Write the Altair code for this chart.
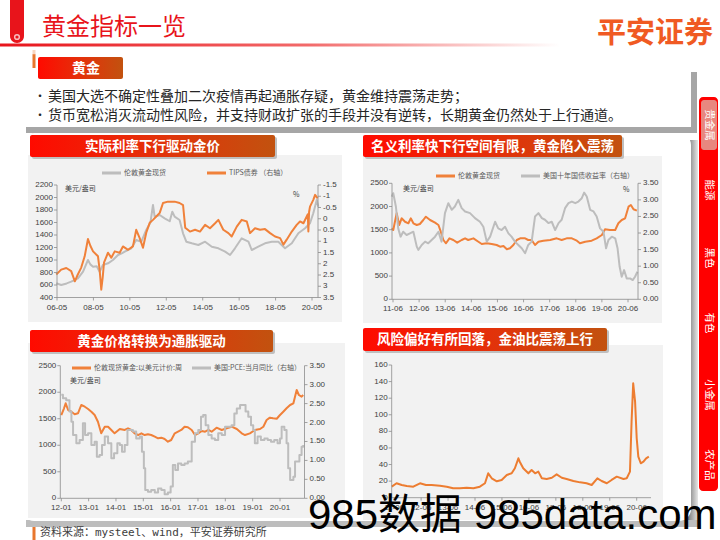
import altair as alt
import pandas as pd

# ---------------- data ----------------
# Chart 1: London gold spot (USD/oz, left) and TIPS yield (%, right, reversed)
c1_gold = [(2006.33, 627), (2006.6, 600), (2006.9, 625), (2007.15, 653), (2007.52, 707), (2007.8, 813),
           (2008.07, 1000), (2008.2, 930), (2008.35, 893), (2008.55, 900), (2008.71, 813), (2008.89, 920),
           (2009.17, 947), (2009.44, 1000), (2009.72, 1080), (2009.95, 1110), (2010.09, 1133), (2010.45, 1187),
           (2010.72, 1320), (2011.0, 1293), (2011.27, 1480), (2011.5, 1600), (2011.64, 1880), (2011.73, 1693),
           (2012.01, 1720), (2012.28, 1667), (2012.56, 1620), (2012.7, 1773), (2012.83, 1693), (2013.1, 1640),
           (2013.29, 1427), (2013.47, 1293), (2013.77, 1267), (2014.13, 1240), (2014.5, 1293), (2014.87, 1213),
           (2015.23, 1187), (2015.6, 1133), (2015.87, 1080), (2016.14, 1187), (2016.51, 1347), (2016.88, 1293),
           (2017.06, 1160), (2017.42, 1213), (2017.79, 1267), (2018.16, 1293), (2018.52, 1293), (2018.89, 1187),
           (2019.26, 1267), (2019.62, 1427), (2019.99, 1507), (2020.26, 1587), (2020.44, 1747), (2020.63, 1960),
           (2020.72, 1853)]
c1_tips = [(2006.33, 2.48), (2006.6, 2.26), (2006.88, 2.19), (2007.15, 2.33), (2007.35, 2.78), (2007.5, 2.5),
           (2007.7, 2.17), (2007.89, 1.67), (2008.07, 0.9), (2008.2, 1.2), (2008.35, 1.45), (2008.62, 1.67),
           (2008.71, 2.26), (2008.8, 3.15), (2008.88, 2.6), (2008.95, 1.95), (2009.17, 1.51), (2009.35, 1.73),
           (2009.54, 1.45), (2009.81, 1.51), (2009.99, 1.23), (2010.27, 1.38), (2010.54, 1.23), (2010.72, 0.49),
           (2010.91, 0.86), (2011.09, 1.29), (2011.27, 0.62), (2011.46, 0.18), (2011.64, 0.05), (2011.82, -0.1),
           (2012.01, -0.26), (2012.19, -0.7), (2012.46, -0.76), (2012.83, -0.76), (2013.1, -0.7), (2013.29, -0.61),
           (2013.41, 0.4), (2013.67, 0.57), (2013.95, 0.49), (2014.22, 0.57), (2014.5, 0.27), (2014.77, 0.42),
           (2015.05, 0.2), (2015.23, 0.05), (2015.5, 0.49), (2015.78, 0.64), (2015.96, 0.79), (2016.24, 0.35),
           (2016.51, 0.05), (2016.79, 0.12), (2016.97, 0.64), (2017.24, 0.42), (2017.52, 0.49), (2017.79, 0.46),
           (2018.07, 0.64), (2018.34, 0.79), (2018.62, 0.86), (2018.8, 1.15), (2018.98, 0.93), (2019.26, 0.57),
           (2019.53, 0.27), (2019.71, 0.12), (2019.9, 0.2), (2020.08, -0.1), (2020.14, -0.2), (2020.17, 0.57),
           (2020.21, -0.3), (2020.26, -0.54), (2020.44, -0.84), (2020.54, -1.06), (2020.68, -0.91)]
c1_xticks = [2006.37, 2008.37, 2010.37, 2012.37, 2014.37, 2016.37, 2018.37, 2020.37]
c1_xlabels = ["06-05", "08-05", "10-05", "12-05", "14-05", "16-05", "18-05", "20-05"]
c1_lticks = [400, 600, 800, 1000, 1200, 1400, 1600, 1800, 2000, 2200]
c1_rticks = [-1.5, -1, -0.5, 0, 0.5, 1, 1.5, 2, 2.5, 3, 3.5]
c1_rlabels = ["-1.5", "-1", "-0.5", "0", "0.5", "1", "1.5", "2", "2.5", "3", "3.5"]

# Chart 2: London gold spot (left) and US 10Y treasury yield (%, right)
c2_gold = [(2011.37, 1530), (2011.43, 1493), (2011.56, 1853), (2011.66, 1601), (2011.75, 1745), (2011.88, 1672),
           (2012.01, 1638), (2012.1, 1745), (2012.2, 1638), (2012.33, 1601), (2012.45, 1623), (2012.58, 1709),
           (2012.68, 1780), (2012.84, 1709), (2013.03, 1651), (2013.16, 1601), (2013.25, 1457), (2013.35, 1278),
           (2013.45, 1207), (2013.58, 1314), (2013.73, 1278), (2013.88, 1220), (2014.05, 1278), (2014.18, 1314),
           (2014.3, 1278), (2014.5, 1314), (2014.69, 1241), (2014.82, 1192), (2015.01, 1207), (2015.2, 1192),
           (2015.39, 1170), (2015.52, 1134), (2015.65, 1149), (2015.78, 1078), (2015.9, 1099), (2016.03, 1170),
           (2016.16, 1278), (2016.29, 1314), (2016.48, 1314), (2016.6, 1278), (2016.73, 1278), (2016.86, 1170),
           (2016.99, 1241), (2017.18, 1263), (2017.44, 1278), (2017.69, 1314), (2017.88, 1278), (2018.07, 1314),
           (2018.27, 1314), (2018.46, 1263), (2018.58, 1207), (2018.78, 1241), (2019.03, 1263), (2019.22, 1314),
           (2019.42, 1386), (2019.54, 1508), (2019.73, 1493), (2019.93, 1493), (2020.05, 1638), (2020.18, 1709),
           (2020.31, 1745), (2020.44, 1996), (2020.53, 2032), (2020.63, 1940), (2020.76, 1910)]
c2_yield = [(2011.37, 3.1), (2011.43, 3.2), (2011.53, 2.8), (2011.62, 2.14), (2011.71, 1.89), (2011.81, 2.04),
            (2011.94, 1.94), (2012.07, 1.99), (2012.2, 2.04), (2012.33, 1.59), (2012.39, 1.49), (2012.52, 1.64),
            (2012.65, 1.74), (2012.77, 1.69), (2012.9, 1.79), (2013.03, 1.89), (2013.16, 2.04), (2013.28, 1.74),
            (2013.41, 2.6), (2013.54, 2.9), (2013.67, 2.7), (2013.79, 2.8), (2013.92, 3.0), (2014.05, 2.75),
            (2014.18, 2.65), (2014.37, 2.6), (2014.56, 2.45), (2014.75, 2.34), (2014.88, 2.19), (2015.01, 1.74),
            (2015.14, 1.89), (2015.33, 2.34), (2015.45, 2.14), (2015.58, 2.09), (2015.71, 2.19), (2015.84, 1.99),
            (2015.96, 1.89), (2016.09, 1.74), (2016.22, 1.64), (2016.35, 1.54), (2016.48, 1.39), (2016.6, 1.64),
            (2016.73, 1.74), (2016.86, 2.5), (2016.99, 2.6), (2017.12, 2.45), (2017.24, 2.4), (2017.37, 2.3),
            (2017.5, 2.34), (2017.63, 2.09), (2017.76, 2.3), (2017.88, 2.4), (2018.01, 2.75), (2018.14, 2.9),
            (2018.27, 2.95), (2018.4, 2.9), (2018.52, 2.95), (2018.65, 3.05), (2018.74, 3.22), (2018.84, 3.1),
            (2018.97, 2.7), (2019.1, 2.65), (2019.22, 2.5), (2019.35, 2.14), (2019.48, 2.04), (2019.58, 1.54),
            (2019.67, 1.79), (2019.8, 1.89), (2019.93, 1.84), (2020.02, 1.54), (2020.1, 0.98), (2020.18, 0.68),
            (2020.27, 0.88), (2020.37, 0.63), (2020.5, 0.63), (2020.6, 0.58), (2020.69, 0.68), (2020.78, 0.83)]
c2_xticks = [2011.42, 2012.42, 2013.42, 2014.42, 2015.42, 2016.42, 2017.42, 2018.42, 2019.42, 2020.42]
c2_xlabels = ["11-06", "12-06", "13-06", "14-06", "15-06", "16-06", "17-06", "18-06", "19-06", "20-06"]
c2_lticks = [0, 500, 1000, 1500, 2000, 2500]
c2_rticks = [0, 0.5, 1, 1.5, 2, 2.5, 3, 3.5]
c2_rlabels = ["0.00", "0.50", "1.00", "1.50", "2.00", "2.50", "3.00", "3.50"]

# Chart 3: London gold spot weekly (left) and US PCE YoY (%, right)
c3_gold = [(2012.0, 1570), (2012.1, 1697), (2012.16, 1791), (2012.25, 1665), (2012.37, 1633), (2012.49, 1584),
           (2012.61, 1603), (2012.73, 1759), (2012.86, 1727), (2012.98, 1684), (2013.1, 1633), (2013.22, 1570),
           (2013.34, 1444), (2013.46, 1225), (2013.59, 1350), (2013.71, 1350), (2013.83, 1288), (2013.95, 1225),
           (2014.14, 1307), (2014.32, 1288), (2014.44, 1320), (2014.56, 1288), (2014.68, 1225), (2014.81, 1193),
           (2014.93, 1225), (2015.05, 1193), (2015.17, 1207), (2015.29, 1193), (2015.42, 1162), (2015.54, 1131),
           (2015.66, 1143), (2015.78, 1118), (2015.9, 1067), (2016.02, 1099), (2016.15, 1225), (2016.27, 1256),
           (2016.39, 1288), (2016.51, 1350), (2016.63, 1340), (2016.77, 1288), (2016.89, 1193), (2017.01, 1225),
           (2017.14, 1269), (2017.26, 1256), (2017.38, 1288), (2017.5, 1256), (2017.68, 1331), (2017.87, 1288),
           (2018.05, 1320), (2018.23, 1350), (2018.42, 1307), (2018.6, 1225), (2018.72, 1193), (2018.9, 1225),
           (2019.08, 1288), (2019.27, 1307), (2019.39, 1350), (2019.51, 1476), (2019.63, 1520), (2019.75, 1508),
           (2019.88, 1500), (2020.0, 1570), (2020.12, 1633), (2020.24, 1697), (2020.37, 1759), (2020.49, 1791),
           (2020.61, 2042), (2020.69, 1948), (2020.79, 1916), (2020.85, 1948)]
c3_pce = [(2012.0, 2.73), (2012.06, 2.64), (2012.18, 2.59), (2012.3, 2.29), (2012.37, 2.02), (2012.43, 1.67),
          (2012.55, 1.45), (2012.67, 1.54), (2012.79, 1.98), (2012.87, 1.67), (2012.98, 1.72), (2013.1, 1.41),
          (2013.22, 1.49), (2013.3, 1.1), (2013.4, 1.14), (2013.49, 1.41), (2013.59, 1.63), (2013.71, 1.45),
          (2013.83, 1.06), (2013.93, 1.19), (2014.05, 1.45), (2014.14, 1.41), (2014.22, 1.23), (2014.32, 1.41),
          (2014.42, 1.8), (2014.5, 1.8), (2014.62, 1.76), (2014.74, 1.58), (2014.87, 1.63), (2014.95, 1.23),
          (2015.02, 0.79), (2015.07, 0.22), (2015.17, 0.17), (2015.29, 0.22), (2015.42, 0.15), (2015.54, 0.26),
          (2015.66, 0.22), (2015.78, 0.11), (2015.9, 0.15), (2016.0, 0.31), (2016.08, 0.88), (2016.17, 0.75),
          (2016.27, 0.92), (2016.39, 0.88), (2016.51, 0.92), (2016.63, 0.97), (2016.77, 1.49), (2016.89, 1.72),
          (2017.01, 1.8), (2017.11, 2.15), (2017.19, 2.2), (2017.28, 1.93), (2017.38, 1.67), (2017.5, 1.58),
          (2017.62, 1.54), (2017.74, 1.72), (2017.87, 1.67), (2017.99, 1.89), (2018.11, 1.89), (2018.23, 1.93),
          (2018.33, 2.24), (2018.42, 2.37), (2018.54, 2.46), (2018.66, 2.46), (2018.74, 2.29), (2018.84, 2.15),
          (2018.94, 1.93), (2019.02, 1.8), (2019.08, 1.45), (2019.18, 1.63), (2019.3, 1.54), (2019.43, 1.58),
          (2019.55, 1.54), (2019.67, 1.49), (2019.79, 1.54), (2019.91, 1.45), (2020.0, 1.58), (2020.06, 1.89),
          (2020.16, 1.8), (2020.24, 1.45), (2020.3, 0.79), (2020.37, 0.48), (2020.49, 0.57), (2020.55, 0.97),
          (2020.63, 0.97), (2020.71, 1.14), (2020.79, 1.36), (2020.85, 1.41)]
c3_xticks = [2012, 2013, 2014, 2015, 2016, 2017, 2018, 2019, 2020]
c3_xlabels = ["12-01", "13-01", "14-01", "15-01", "16-01", "17-01", "18-01", "19-01", "20-01"]

# Chart 4: gold / oil ratio
c4_ratio = [(2011.33, 13.3), (2011.51, 17.4), (2011.7, 15.3), (2011.89, 14.1), (2012.13, 13.3), (2012.38, 17.4),
            (2012.6, 15.3), (2012.81, 15.3), (2013.12, 14.5), (2013.37, 13.3), (2013.61, 11.3), (2013.86, 11.3),
            (2014.11, 12.0), (2014.36, 11.3), (2014.6, 13.3), (2014.79, 17.4), (2014.91, 29.4), (2015.04, 23.4),
            (2015.23, 19.8), (2015.41, 21.4), (2015.6, 27.4), (2015.78, 29.4), (2015.9, 35.5), (2016.03, 47.5),
            (2016.08, 43.4), (2016.21, 35.5), (2016.4, 29.4), (2016.52, 33.4), (2016.65, 29.4), (2016.77, 31.4),
            (2016.9, 23.4), (2017.08, 22.6), (2017.27, 24.1), (2017.45, 28.2), (2017.64, 24.1), (2017.82, 22.6),
            (2018.07, 20.1), (2018.32, 18.5), (2018.56, 17.4), (2018.75, 15.3), (2018.96, 23.4), (2019.12, 20.1),
            (2019.31, 17.4), (2019.49, 21.4), (2019.68, 25.4), (2019.93, 22.6), (2020.05, 23.4), (2020.17, 31.4),
            (2020.23, 91.7), (2020.29, 138.0), (2020.36, 115.8), (2020.42, 71.7), (2020.48, 49.5), (2020.57, 41.5),
            (2020.67, 43.4), (2020.77, 47.5), (2020.87, 49.5)]
c4_xticks = [2011.42, 2012.42, 2013.42, 2014.42, 2015.42, 2016.42, 2017.42, 2018.42, 2019.42, 2020.42]
c4_xlabels = ["11-06", "12-06", "13-06", "14-06", "15-06", "16-06", "17-06", "18-06", "19-06", "20-06"]
c4_lticks = [0, 20, 40, 60, 80, 100, 120, 140, 160]

# texts
page_title = "黄金指标一览"
logo = "平安证券"
section = "黄金"
bullets = ["美国大选不确定性叠加二次疫情再起通胀存疑，黄金维持震荡走势；",
           "货币宽松消灭流动性风险，并支持财政扩张的手段并没有逆转，长期黄金仍然处于上行通道。"]
chart_titles = ["实际利率下行驱动金价", "名义利率快下行空间有限，黄金陷入震荡",
                "黄金价格转换为通胀驱动", "风险偏好有所回落，金油比震荡上行"]
side_tabs = ["贵金属", "能源", "黑色", "有色", "小金属", "农产品"]
source = "资料来源：mysteel、wind，平安证券研究所"
watermark = "985数据 985data.com"

# ---------------- styling ----------------
SANS = "Liberation Sans"
CJK = "Noto Sans CJK SC"
ORANGE = "#F0813A"
GRAY = "#BDBDBD"
AX = "#8C8C8C"
LAB = "#404040"
PANEL = "#F2F2F2"
one = pd.DataFrame({"k": [0]})

tab_grad = alt.LinearGradient(gradient="linear", x1=0, x2=1, y1=0, y2=0,
                              stops=[alt.GradientStop(color="#FF0A00", offset=0),
                                     alt.GradientStop(color="#E4300A", offset=0.5),
                                     alt.GradientStop(color="#C2520F", offset=1)])
line_grad = alt.LinearGradient(gradient="linear", x1=0, x2=1, y1=0, y2=0,
                               stops=[alt.GradientStop(color="#E8141B", offset=0),
                                      alt.GradientStop(color="#F26A6A", offset=0.55),
                                      alt.GradientStop(color="#FFFFFF", offset=1)])
shadow_grad = alt.LinearGradient(gradient="linear", x1=0, x2=1, y1=0, y2=0,
                                 stops=[alt.GradientStop(color="#7A7A7A", offset=0),
                                        alt.GradientStop(color="#E6E6E6", offset=1)])


def rect(x, x2, y, y2, color, r=0, **kw):
    return alt.Chart(one).mark_rect(color=color, cornerRadius=r, **kw).encode(
        x=alt.value(x), x2=alt.value(x2), y=alt.value(y), y2=alt.value(y2))


def txt(s, x, y, size, color, font=CJK, align="left", baseline="middle", **kw):
    return alt.Chart(one).mark_text(text=s, fontSize=size, color=color, font=font,
                                    align=align, baseline=baseline, **kw).encode(
        x=alt.value(x), y=alt.value(y))


def hrule(x, x2, y, color, w=1.0):
    return alt.Chart(one).mark_rule(color=color, strokeWidth=w).encode(
        x=alt.value(x), x2=alt.value(x2), y=alt.value(y))


def vrule(x, y, y2, color, w=1.0):
    return alt.Chart(one).mark_rule(color=color, strokeWidth=w).encode(
        x=alt.value(x), y=alt.value(y), y2=alt.value(y2))


def sc(domain, rng):
    return alt.Scale(domain=domain, range=rng, zero=False, nice=False)


def series(pairs, xs, ys, color, w=2.0, interp="linear"):
    df = pd.DataFrame(pairs, columns=["t", "v"])
    return alt.Chart(df).mark_line(color=color, strokeWidth=w, interpolate=interp, strokeJoin="round").encode(
        x=alt.X("t:Q", scale=xs, axis=None), y=alt.Y("v:Q", scale=ys, axis=None))


def yaxis(vals, labels, ys, ax_x, side, y0, y1, size=8):
    df = pd.DataFrame({"v": vals, "s": labels})
    if side == "left":
        lx, align, tx = ax_x - 4, "right", ax_x - 3
    else:
        lx, align, tx = ax_x + 5, "left", ax_x + 3
    return [
        vrule(ax_x, y0, y1, AX, 0.8),
        alt.Chart(df).mark_rule(color=AX, strokeWidth=0.8).encode(
            x=alt.value(ax_x), x2=alt.value(tx), y=alt.Y("v:Q", scale=ys, axis=None)),
        alt.Chart(df).mark_text(align=align, baseline="middle", fontSize=size, font=SANS, color=LAB).encode(
            x=alt.value(lx), y=alt.Y("v:Q", scale=ys, axis=None), text="s:N"),
    ]


def xaxis(vals, labels, xs, ax_y, x0, x1, size=8):
    df = pd.DataFrame({"t": vals, "s": labels})
    return [
        hrule(x0, x1, ax_y, AX, 0.8),
        alt.Chart(df).mark_rule(color=AX, strokeWidth=0.8).encode(
            x=alt.X("t:Q", scale=xs, axis=None), y=alt.value(ax_y), y2=alt.value(ax_y + 3)),
        alt.Chart(df).mark_text(align="center", baseline="middle", fontSize=size, font=SANS, color=LAB).encode(
            x=alt.X("t:Q", scale=xs, axis=None), y=alt.value(ax_y + 10), text="s:N"),
    ]


def legend_item(x, y, color, label, size=7):
    return [hrule(x, x + 19, y, color, 3), txt(label, x + 22, y, size, "#595959")]


def chart_tab(x, x2, y, y2, title):
    return [rect(x + 2, x2 + 2, y + 2, y2 + 2, "#BFBFBF", 2),
            rect(x, x2, y, y2, tab_grad, 2),
            txt(title, (x + x2) / 2, (y + y2) / 2 + 0.5, 13.5, "white", align="center", fontWeight="bold")]


layers = []
# ---------------- page chrome ----------------
layers += [
    rect(10, 24, -10, 43, "#E8141B", 7),
    alt.Chart(one).mark_point(shape="circle", filled=False, color="white", size=22, strokeWidth=1.5).encode(
        x=alt.value(17), y=alt.value(37)),
    txt(page_title, 42, 28, 24, "#E8141B"),
    rect(0, 560, 43.5, 46.5, line_grad),
    txt(logo, 597, 34, 29, "#F05A23", fontWeight="bold"),
    rect(32.5, 35.5, 50, 540, "#E8772E"),
    alt.Chart(one).mark_point(shape="circle", filled=True, fill="white", color="#E8772E", size=45, strokeWidth=2).encode(
        x=alt.value(34), y=alt.value(51)),
    # text box
    rect(26, 697, 72, 133, "#A6A6A6"),
    rect(22, 691, 68, 127, "white"),
    rect(38, 123, 57, 79, tab_grad, 2),
    txt(section, 72, 68.5, 14, "white", fontWeight="bold"),
    txt("•", 34, 97, 12, "#262626"),
    txt(bullets[0], 48, 97, 14, "#262626"),
    txt("•", 34, 115.5, 12, "#262626"),
    txt(bullets[1], 48, 115.5, 14, "#262626"),
    # chart container with shadow
    rect(688, 698, 140, 524, shadow_grad),
    rect(26, 698, 520, 527, "#BDBDBD"),
    rect(22, 691, 133, 521, "white", 12),
    # right sidebar
    rect(699, 718, 97, 491, "#FF0000", 4),
    rect(701, 717, 100, 150, "#E8877F", 3),
]
tab_y = [125, 190, 258, 323, 395, 465]
for s, yy in zip(side_tabs, tab_y):
    layers.append(txt(s, 709, yy, 10.5, "white", align="center", angle=90))

# chart panels
layers += [
    rect(28, 342, 155, 322, PANEL),
    rect(363, 662, 156, 323, PANEL),
    rect(28, 345, 343, 518, PANEL),
    rect(363, 663, 345, 520, PANEL),
]

# ---------------- chart 1 ----------------
xs1 = sc([2006.37, 2020.37], [57, 312])
yl1 = sc([400, 2200], [297.5, 185])
yr1 = sc([-1.5, 3.5], [185, 297.5])
layers += [series(c1_gold, xs1, yl1, GRAY), series(c1_tips, xs1, yr1, ORANGE)]
layers += yaxis(c1_lticks, [str(v) for v in c1_lticks], yl1, 57, "left", 185, 297.5)
layers += yaxis(c1_rticks, c1_rlabels, yr1, 318, "right", 185, 297.5)
layers += xaxis(c1_xticks, c1_xlabels, xs1, 297.5, 57, 318)
layers += legend_item(102, 173, GRAY, "伦敦黄金现货")
layers += legend_item(207, 173, ORANGE, "TIPS债券  （右轴）")
layers += [txt("美元/盎司", 65, 189, 7, "#404040"), txt("%", 293, 195, 7, "#404040")]
layers += chart_tab(30, 275, 135, 157, chart_titles[0])

# ---------------- chart 2 ----------------
xs2 = sc([2011.42, 2020.42], [393, 628])
yl2 = sc([0, 2500], [299.3, 183.3])
yr2 = sc([0, 3.5], [299.3, 183.3])
layers += [series(c2_gold, xs2, yl2, ORANGE), series(c2_yield, xs2, yr2, GRAY)]
layers += yaxis(c2_lticks, [str(v) for v in c2_lticks], yl2, 392, "left", 183.3, 299.3)
layers += yaxis(c2_rticks, c2_rlabels, yr2, 638, "right", 183.3, 299.3)
layers += xaxis(c2_xticks, c2_xlabels, xs2, 299.3, 392, 638)
layers += legend_item(436, 176, ORANGE, "伦敦黄金现货")
layers += legend_item(521, 176, GRAY, "美国十年国债收益率（右轴）")
layers += [txt("美元/盎司", 403, 189, 7, "#404040"), txt("%", 623, 190, 7, "#404040")]
layers += chart_tab(363, 622, 135, 157, chart_titles[1])

# ---------------- chart 3 ----------------
xs3 = sc([2012.0, 2020.0], [61.3, 280])
yl3 = sc([0, 2500], [498.3, 365.7])
yr3 = sc([0, 3.5], [498.3, 365.7])
layers += [series(c3_gold, xs3, yl3, ORANGE), series(c3_pce, xs3, yr3, GRAY, interp="step-after")]
layers += yaxis(c2_lticks, [str(v) for v in c2_lticks], yl3, 60.3, "left", 365.7, 498.3)
layers += yaxis(c2_rticks, c2_rlabels, yr3, 304.5, "right", 365.7, 498.3)
layers += xaxis(c3_xticks, c3_xlabels, xs3, 498.3, 60.3, 304.5)
layers += legend_item(72, 368, ORANGE, "伦敦现货黄金:以美元计价:周")
layers += legend_item(192, 368, GRAY, "美国:PCE:当月同比（右轴）")
layers += [txt("美元/盎司", 70, 381, 7, "#404040")]
layers += chart_tab(30, 273, 330, 352, chart_titles[2])

# ---------------- chart 4 ----------------
xs4 = sc([2014.42, 2020.42], [475, 636.7])
yl4 = sc([0, 160], [497.7, 365])
layers += [series(c4_ratio, xs4, yl4, "#ED7D31", w=2.0)]
layers += yaxis(c4_lticks, [str(v) for v in c4_lticks], yl4, 391.7, "left", 365, 497.7)
layers += xaxis(c4_xticks, c4_xlabels, xs4, 497.7, 391.7, 651)
layers += chart_tab(363, 607, 328, 351, chart_titles[3])

# ---------------- footer ----------------
layers += [
    txt(source, 40, 533, 11, "#404040", font="DejaVu Sans Mono, Noto Sans CJK SC"),
    txt(watermark, 308, 529, 42, "black", font="Liberation Sans, Noto Sans CJK SC", baseline="alphabetic"),
]

chart = alt.layer(*layers).resolve_scale(x="independent", y="independent").properties(
    width=720, height=540, padding=0, background="white",
    autosize=alt.AutoSizeParams(type="none"),
).configure_view(stroke=None)

chart.save("out.html", embed_options={"renderer": "svg", "actions": False})
